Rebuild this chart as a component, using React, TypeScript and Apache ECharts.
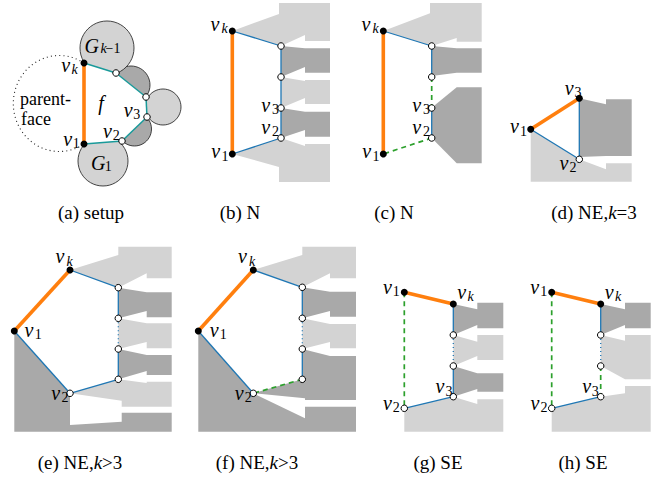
import React, { useEffect, useRef } from "react";
import * as echarts from "echarts";

type Pt = [number, number];
type Seg = [number, number, number, number];
type Label = [string, number, number, string];

const W = 656;
const H = 480;

const LIGHT = "#d3d3d3";
const DARK = "#a9a9a9";
const ORANGE = "#ff7f0e";
const BLUE = "#1f77b4";
const GREEN = "#2ca02c";
const TEAL = "#199a9a";

// (a) setup
const setupDarkDiscs: [number, number, number][] = [
  [131, 85, 19],
  [134.5, 129, 17],
];
const setupLightDiscs: [number, number, number][] = [
  [107, 48, 27],
  [163, 107, 18],
  [103, 161, 25],
];
const setupFace: Pt[] = [[84, 63], [116, 73], [146, 97], [147, 117], [122, 141], [84, 144]];
const parentFaceArc = { from: [84, 63] as Pt, to: [84, 144] as Pt, rx: 46, ry: 48 };

const lightRegions: Pt[][] = [
  [[232.3, 31], [279, 14], [279, 3], [330, 3], [330, 41], [305, 41], [305, 35], [281, 46]],
  [[281, 77], [305, 81], [305, 80], [330, 80], [330, 104], [305, 104], [305, 98], [281, 108]],
  [[281, 138], [305, 146], [305, 144], [330, 144], [330, 182], [279, 182], [279, 167], [232.3, 154]],
  [[383.3, 31], [430, 13.3], [430, 3], [481.7, 3], [481.7, 41.7], [456.7, 41.7], [456.7, 38], [431.7, 46]],
  [[530.7, 129.3], [579.3, 159.3], [606, 169.3], [606, 163.3], [631.7, 163.3], [631.7, 181.7], [530.7, 181.7]],
  [[70, 270], [118.3, 255], [118.3, 246.7], [171.7, 246.7], [171.7, 278.3], [146.7, 278.3], [146.7, 273.3], [118.3, 287.7]],
  [[118.3, 318.3], [146.7, 323.3], [171.7, 323.3], [171.7, 348.3], [146.7, 348.3], [146.7, 342], [118.3, 349]],
  [[118.3, 379.3], [146.7, 383], [146.7, 381.7], [171.7, 381.7], [171.7, 406.7], [121.7, 406.7], [121.7, 400.7], [70, 393.3]],
  [[253.3, 270], [302.3, 255], [302.3, 246.7], [356, 246.7], [356, 278.3], [330, 278.3], [330, 273.3], [302.3, 287.3]],
  [[302.3, 318.3], [330, 324], [356, 324], [356, 348.3], [330, 348.3], [330, 342], [302.3, 349]],
  [[453.3, 335], [477.3, 341.7], [477.3, 335], [503.3, 335], [503.3, 360], [477.3, 360], [477.3, 356], [453.3, 366]],
  [[453.3, 396.7], [477.3, 404], [477.3, 399.3], [503.3, 399.3], [503.3, 431.7], [404.3, 431.7], [404.3, 408.3]],
  [[600.7, 335], [625, 340.7], [625, 335], [650.7, 335], [650.7, 379.3], [625, 379.3], [600.7, 366]],
  [[600.7, 396.7], [625, 393.3], [625, 386], [650.7, 386], [650.7, 431.7], [551.7, 431.7], [551.7, 408.3]],
];

const darkRegions: Pt[][] = [
  [[281, 46], [305, 48.3], [330, 48.3], [330, 72.7], [305, 72.7], [305, 67], [281, 77]],
  [[281, 108], [305, 111.7], [330, 111.7], [330, 136.7], [305, 136.7], [305, 130], [281, 138]],
  [[431.7, 46], [456.7, 48.3], [481.7, 48.3], [481.7, 72.7], [456.7, 72.7], [431.7, 76]],
  [[431.7, 107.7], [456.7, 87.3], [481.7, 87.3], [481.7, 163.3], [456.7, 163.3], [431.7, 138]],
  [[579.3, 98.3], [606, 104.3], [606, 99.3], [631.7, 99.3], [631.7, 156], [606, 156], [579.3, 157]],
  [[118.3, 287.7], [146.7, 292.3], [171.7, 292.3], [171.7, 317.3], [146.7, 317.3], [146.7, 311], [118.3, 318.3]],
  [[118.3, 349], [146.7, 355], [171.7, 355], [171.7, 375], [146.7, 375], [146.7, 371], [118.3, 379.3]],
  [[14.3, 331], [70, 393.3], [70, 425], [121.7, 421.7], [121.7, 412.7], [171.7, 412.7], [171.7, 431.7], [14.3, 431.7]],
  [[302.3, 287.3], [330, 291.7], [356, 291.7], [356, 316.7], [330, 316.7], [330, 311], [302.3, 318.3]],
  [[302.3, 349], [330, 356], [356, 356], [356, 400], [305, 400], [305, 398.3], [253.3, 393.3], [302.3, 379.3]],
  [[198.3, 331], [253.3, 393.3], [305, 418.3], [305, 406.7], [356, 406.7], [356, 431.7], [198.3, 431.7]],
  [[453.3, 304], [477.3, 309.3], [477.3, 302.7], [503.3, 302.7], [503.3, 328.3], [477.3, 328.3], [477.3, 325], [453.3, 335]],
  [[453.3, 366], [477.3, 373.3], [503.3, 373.3], [503.3, 391.7], [477.3, 391.7], [477.3, 389], [453.3, 396.7]],
  [[600.7, 304], [625, 309.3], [625, 302.7], [650.7, 302.7], [650.7, 328.3], [625, 328.3], [625, 325], [600.7, 335]],
];

const orangeEdges: Seg[] = [
  [84, 63, 84, 144],
  [232.3, 31, 232.3, 154],
  [383.3, 31, 383.3, 154],
  [530.7, 129.3, 579.3, 98.3],
  [14.3, 331, 70, 270],
  [198.3, 331, 253.3, 270],
  [404.3, 292.3, 453.3, 304],
  [551.7, 292.3, 600.7, 304],
];
const tealEdges: Seg[] = [
  [84, 63, 116, 73], [116, 73, 146, 97], [146, 97, 147, 117], [147, 117, 122, 141], [122, 141, 84, 144],
];
const blueEdges: Seg[] = [
  [232.3, 31, 281, 46], [281, 46, 281, 77], [281, 77, 281, 108], [281, 108, 281, 138], [281, 138, 232.3, 154],
  [383.3, 31, 431.7, 46], [431.7, 46, 431.7, 77], [431.7, 108, 431.7, 138],
  [579.3, 98.3, 579.3, 159.3], [530.7, 129.3, 579.3, 159.3],
  [70, 270, 118.3, 287.7], [118.3, 287.7, 118.3, 318.3], [118.3, 349, 118.3, 379.3], [118.3, 379.3, 70, 393.3], [70, 393.3, 14.3, 331],
  [253.3, 270, 302.3, 287.3], [302.3, 287.3, 302.3, 318.3], [302.3, 349, 302.3, 379.3], [253.3, 393.3, 198.3, 331],
  [453.3, 304, 453.3, 335], [453.3, 366, 453.3, 396.7], [453.3, 396.7, 404.3, 408.3],
  [600.7, 304, 600.7, 335], [600.7, 396.7, 551.7, 408.3],
];
const greenDashedEdges: Seg[] = [
  [431.7, 77, 431.7, 108], [431.7, 138, 383.3, 154],
  [302.3, 379.3, 253.3, 393.3],
  [404.3, 292.3, 404.3, 408.3],
  [600.7, 366, 600.7, 396.7], [551.7, 292.3, 551.7, 408.3],
];
const blueDottedEdges: Seg[] = [
  [118.3, 318.3, 118.3, 349],
  [302.3, 318.3, 302.3, 349],
  [453.3, 335, 453.3, 366],
  [600.7, 335, 600.7, 366],
];

const solidVertices: Pt[] = [
  [84, 63], [84, 144], [232.3, 31], [232.3, 154], [383.3, 31], [383.3, 154],
  [530.7, 129.3], [579.3, 98.3], [70, 270], [14.3, 331], [253.3, 270], [198.3, 331],
  [404.3, 292.3], [453.3, 304], [551.7, 292.3], [600.7, 304],
];
const openVertices: Pt[] = [
  [116, 73], [146, 97], [147, 117], [122, 141],
  [281, 46], [281, 77], [281, 108], [281, 138],
  [431.7, 46], [431.7, 77], [431.7, 108], [431.7, 138],
  [579.3, 159.3],
  [118.3, 287.7], [118.3, 318.3], [118.3, 349], [118.3, 379.3], [70, 393.3],
  [302.3, 287.3], [302.3, 318.3], [302.3, 349], [302.3, 379.3], [253.3, 393.3],
  [453.3, 335], [453.3, 366], [453.3, 396.7], [404.3, 408.3],
  [600.7, 335], [600.7, 366], [600.7, 396.7], [551.7, 408.3],
];

// labels: text, center x, center y, kind (mi: math italic, si: sub italic, sr: sub roman, r: roman left)
const labels: Label[] = [
  ["v", 65.8, 67, "mi"], ["k", 74.5, 69, "si"],
  ["v", 67.8, 140.5, "mi"], ["1", 76.2, 143.3, "sr"],
  ["v", 107.5, 133.3, "mi"], ["2", 116.3, 135.5, "sr"],
  ["v", 128.3, 111.7, "mi"], ["3", 136.7, 114.2, "sr"],
  ["f", 101, 102.5, "mi"],
  ["G", 91.7, 45.8, "mi"], ["k", 103.5, 48.5, "si"], ["−1", 113, 48.5, "sr"],
  ["G", 98.3, 162.5, "mi"], ["1", 108.3, 166, "sr"],
  ["parent-", 20, 98.5, "r"], ["face", 21, 118.5, "r"],
  ["v", 215, 25.5, "mi"], ["k", 224.5, 28, "si"],
  ["v", 265.8, 106.8, "mi"], ["3", 275.5, 109.3, "sr"],
  ["v", 265.8, 129, "mi"], ["2", 275.5, 131.5, "sr"],
  ["v", 215.8, 153.3, "mi"], ["1", 225, 156, "sr"],
  ["v", 366, 25.5, "mi"], ["k", 375.5, 28, "si"],
  ["v", 416.8, 106.8, "mi"], ["3", 426.5, 109.3, "sr"],
  ["v", 416.8, 129, "mi"], ["2", 426.5, 131.5, "sr"],
  ["v", 366.8, 153.3, "mi"], ["1", 376, 156, "sr"],
  ["v", 569.2, 90, "mi"], ["3", 578, 92.5, "sr"],
  ["v", 514.5, 128.3, "mi"], ["1", 523.5, 131, "sr"],
  ["v", 564, 165, "mi"], ["2", 573, 167.5, "sr"],
  ["v", 60, 258.3, "mi"], ["k", 69.5, 261, "si"],
  ["v", 29, 331.7, "mi"], ["1", 38.3, 334, "sr"],
  ["v", 55.8, 394.7, "mi"], ["2", 65, 397, "sr"],
  ["v", 242.5, 258.3, "mi"], ["k", 252, 261, "si"],
  ["v", 214.2, 331.7, "mi"], ["1", 223.3, 334, "sr"],
  ["v", 239.2, 394.7, "mi"], ["2", 248.3, 397, "sr"],
  ["v", 387.5, 289, "mi"], ["1", 396.3, 291.5, "sr"],
  ["v", 461.7, 294.3, "mi"], ["k", 470.5, 296.5, "si"],
  ["v", 440, 388.3, "mi"], ["3", 449, 391, "sr"],
  ["v", 387.5, 405, "mi"], ["2", 396.3, 407.7, "sr"],
  ["v", 534.7, 289, "mi"], ["1", 543.8, 291.5, "sr"],
  ["v", 609.2, 294.3, "mi"], ["k", 618, 296.5, "si"],
  ["v", 586.7, 388.3, "mi"], ["3", 595.3, 391, "sr"],
  ["v", 535, 405, "mi"], ["2", 544, 407.7, "sr"],
];

const captions: [string, number, number][] = [
  ["(a) setup", 91, 212],
  ["(b) N", 240, 212],
  ["(c) N", 394, 212],
  ["(d) NE,{i|k}=3", 594, 212],
  ["(e) NE,{i|k}>3", 80, 462],
  ["(f) NE,{i|k}>3", 257, 462],
  ["(g) SE", 438, 462],
  ["(h) SE", 583, 462],
];

const FAMILY = "Liberation Serif";
const fontOf = (size: number, italic: boolean) =>
  `${italic ? "italic " : ""}${size}px ${FAMILY}`;

export default function App() {
  const ref = useRef<HTMLDivElement>(null);

  useEffect(() => {
    document.body.style.margin = "0";
    const chart = echarts.init(ref.current!, null, { renderer: "svg" });

    const base = (name: string, n: number, z: number) => ({
      type: "custom",
      name,
      z,
      silent: true,
      coordinateSystem: "cartesian2d",
      data: Array.from({ length: n }, (_, i) => [i, 0]),
      encode: { x: 0, y: 1 },
    });

    const polySeries = (name: string, polys: Pt[][], fill: string, z: number) => ({
      ...base(name, polys.length, z),
      renderItem: (params: any, api: any) => ({
        type: "polygon",
        shape: { points: polys[params.dataIndex].map((p) => api.coord(p)) },
        style: { fill, stroke: null },
      }),
    });

    const discSeries = (name: string, discs: [number, number, number][], fill: string, z: number) => ({
      ...base(name, discs.length, z),
      renderItem: (params: any, api: any) => {
        const d = discs[params.dataIndex];
        const c = api.coord([d[0], d[1]]);
        const r = api.size([d[2], d[2]])[0];
        return {
          type: "circle",
          shape: { cx: c[0], cy: c[1], r },
          style: { fill, stroke: "#1a1a1a", lineWidth: 0.8 },
        };
      },
    });

    const edgeSeries = (name: string, segs: Seg[], stroke: string, lineWidth: number, lineDash: number[] | null, z: number) => ({
      ...base(name, segs.length, z),
      renderItem: (params: any, api: any) => {
        const s = segs[params.dataIndex];
        const a = api.coord([s[0], s[1]]);
        const b = api.coord([s[2], s[3]]);
        return {
          type: "line",
          shape: { x1: a[0], y1: a[1], x2: b[0], y2: b[1] },
          style: { stroke, lineWidth, lineDash: lineDash || undefined, fill: null },
        };
      },
    });

    const arcSeries = {
      ...base("parent face", 1, 1),
      renderItem: (_params: any, api: any) => {
        const a = api.coord(parentFaceArc.from);
        const b = api.coord(parentFaceArc.to);
        const rr = api.size([parentFaceArc.rx, parentFaceArc.ry]);
        return {
          type: "path",
          shape: { pathData: `M ${a[0]} ${a[1]} A ${rr[0]} ${rr[1]} 0 1 0 ${b[0]} ${b[1]}` },
          style: { fill: null, stroke: "#222", lineWidth: 1.1, lineDash: [1, 3.2] },
        };
      },
    };

    const labelSeries = {
      ...base("labels", labels.length, 9),
      renderItem: (params: any, api: any) => {
        const [t, x, y, kind] = labels[params.dataIndex];
        const isSub = kind === "si" || kind === "sr";
        const italic = kind === "mi" || kind === "si";
        const size = kind === "r" ? 18 : isSub ? 14 : 20;
        const dy = t === "v" ? -2 : 0;
        const c = api.coord([x, y + dy]);
        return {
          type: "text",
          x: c[0],
          y: c[1],
          style: {
            text: t,
            fill: "#000",
            font: fontOf(size, italic),
            fontSize: size,
            fontFamily: FAMILY,
            fontStyle: italic ? "italic" : "normal",
            align: kind === "r" ? "left" : "center",
            verticalAlign: "middle",
          },
        };
      },
    };

    const captionSeries = {
      ...base("captions", captions.length, 9),
      renderItem: (params: any, api: any) => {
        const [t, x, y] = captions[params.dataIndex];
        const c = api.coord([x, y]);
        return {
          type: "text",
          x: c[0],
          y: c[1],
          style: {
            text: t,
            fill: "#000",
            font: fontOf(19, false),
            fontSize: 19,
            fontFamily: FAMILY,
            align: "center",
            verticalAlign: "middle",
            rich: {
              i: { fontSize: 19, fontFamily: FAMILY, fontStyle: "italic", fill: "#000" },
            },
          },
        };
      },
    };

    chart.setOption({
      animation: false,
      backgroundColor: "#fff",
      textStyle: { fontFamily: FAMILY },
      grid: { left: 0, right: 0, top: 0, bottom: 0, containLabel: false },
      xAxis: { type: "value", min: 0, max: W, show: false },
      yAxis: { type: "value", min: 0, max: H, inverse: true, show: false },
      series: [
        arcSeries,
        discSeries("dark discs", setupDarkDiscs, DARK, 2),
        discSeries("light discs", setupLightDiscs, LIGHT, 3),
        polySeries("face", [setupFace], "#ffffff", 4),
        polySeries("light", lightRegions, LIGHT, 5),
        polySeries("dark", darkRegions, DARK, 5),
        edgeSeries("teal", tealEdges, TEAL, 1.5, null, 6),
        edgeSeries("blue", blueEdges, BLUE, 1.3, null, 6),
        edgeSeries("blue dotted", blueDottedEdges, BLUE, 1.3, [1, 3], 6),
        edgeSeries("green", greenDashedEdges, GREEN, 1.7, [5, 4], 6),
        edgeSeries("orange", orangeEdges, ORANGE, 3.6, null, 6),
        {
          type: "scatter",
          name: "solid",
          z: 7,
          silent: true,
          data: solidVertices,
          symbolSize: 7,
          itemStyle: { color: "#000", opacity: 1 },
        },
        {
          type: "scatter",
          name: "open",
          z: 7,
          silent: true,
          data: openVertices,
          symbolSize: 6.5,
          itemStyle: { color: "#fff", borderColor: "#000", borderWidth: 1, opacity: 1 },
        },
        labelSeries,
        captionSeries,
      ],
    });

    return () => chart.dispose();
  }, []);

  return <div ref={ref} style={{ width: W, height: H }} />;
}
